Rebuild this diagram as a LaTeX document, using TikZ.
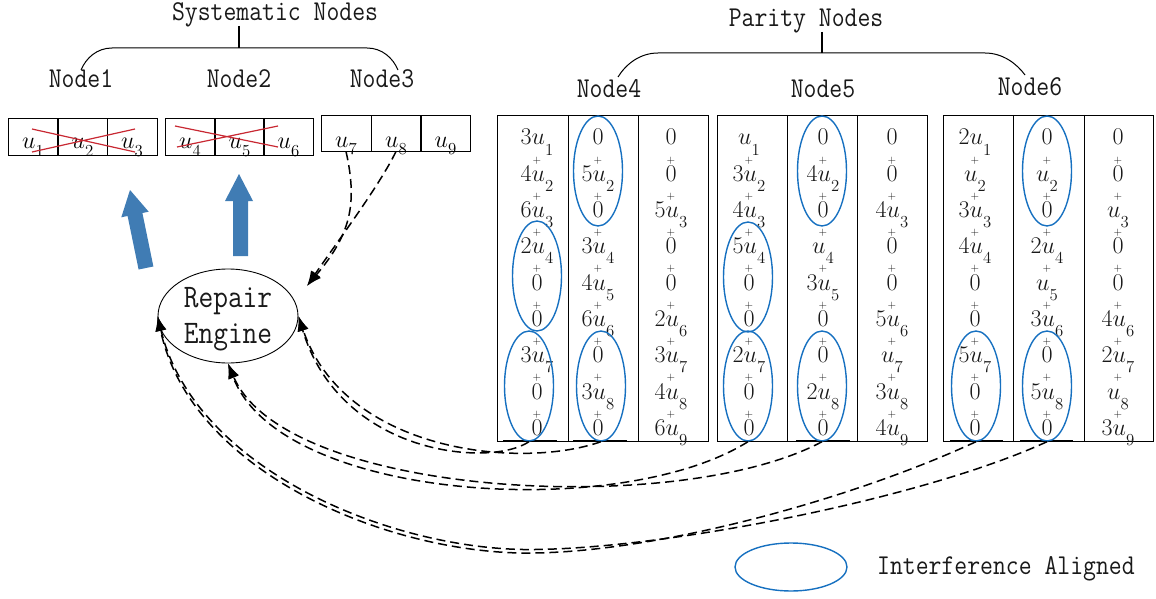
\RequirePackage{fix-cm}
\documentclass[tikz,border=0pt]{standalone}
\usepackage{fontspec}
\usepackage{graphicx}
\usetikzlibrary{shapes.geometric,arrows.meta}
\definecolor{iablue}{RGB}{22,112,192}
\definecolor{arrblue}{RGB}{64,124,180}
\definecolor{xred}{RGB}{200,40,50}
\definecolor{txt}{RGB}{25,25,25}
\newcommand\lab[2][25]{{\ttfamily\fontsize{#1}{#1}\selectfont\scalebox{1}[1.15]{#2}}}
\newcommand\uu[2][0.42]{u\raisebox{-#1em}{$\scriptstyle #2$}}
\newcommand\pcol[3]{%
  \foreach \tm [count=\i] in {#3} {
    \node[term] (#1-\i) at (#2, {145+36.3*(\i-1)}) {$\tm$};
    \ifnum\i>1 \node[plus] (#1-p\i) at (#2, {124+36.3*(\i-1)}) {$+$};\fi
  }}
\begin{document}
\begin{tikzpicture}[x=1pt,y=-1pt,
  box/.style={draw, line width=0.8pt, minimum width=50pt, inner sep=0pt, text height=24pt, text depth=0pt, font=\fontsize{24}{24}\selectfont},
  term/.style={anchor=base, inner sep=0pt, text=txt, font=\fontsize{24}{24}\selectfont},
  plus/.style={inner sep=0pt, text=txt, font=\fontsize{11}{11}\selectfont},
  ia/.style={draw=iablue, line width=1.4pt, ellipse, inner sep=0pt, minimum width=49pt, minimum height=110pt},
  dsh/.style={dash pattern=on 9pt off 5pt, line width=1.5pt, -{Latex[length=15pt,width=11pt]}},
  lbl/.style={anchor=base, inner sep=0pt, text=txt},
  brace/.style={line width=1pt}
]
\useasboundingbox (0,0) rectangle (1156,599);

% systematic cells
\node[box, minimum height=37pt] (c1) at (33,136.5) {$\uu[0.32]{1}$};
\node[box, minimum height=37pt] (c2) at (82.5,136.5) {$\uu[0.32]{2}$};
\node[box, minimum height=37pt] (c3) at (132,136.5) {$\uu[0.32]{3}$};
\node[box, minimum height=37pt] (c4) at (190,136.5) {$\uu[0.32]{4}$};
\node[box, minimum height=37pt] (c5) at (239.5,136.5) {$\uu[0.32]{5}$};
\node[box, minimum height=37pt] (c6) at (288.5,136.5) {$\uu[0.32]{6}$};
\node[box, minimum height=36pt, text height=28pt] (c7) at (346,133) {$\uu[0.32]{7}$};
\node[box, minimum height=36pt, text height=28pt] (c8) at (396,133) {$\uu[0.32]{8}$};
\node[box, minimum height=36pt, text height=28pt] (c9) at (445.5,133) {$\uu[0.32]{9}$};
\draw[xred, line width=1.2pt] (32,129)--(135,152) (32,152)--(135,129);
\draw[xred, line width=1.2pt] (175,126)--(278,147) (177,147)--(278,126);

% labels and braces
\node[lbl] (sys) at (275,21) {\lab{Systematic Nodes}};
\node[lbl] (n1) at (81,88) {\lab{Node1}};
\node[lbl] (n2) at (239,88) {\lab{Node2}};
\node[lbl] (n3) at (382,88) {\lab{Node3}};
\draw[line width=1.5pt] (239,26)--(239,48);
\draw[brace] (81,70) .. controls (86,58) and (97,48) .. (112,48) -- (367,48) .. controls (382,48) and (393,58) .. (398,70);
\node[lbl] (par) at (806,27) {\lab{Parity Nodes}};
\node[lbl] (n4) at (609,98) {\lab{Node4}};
\node[lbl] (n5) at (823,98) {\lab{Node5}};
\node[lbl] (n6) at (1030,96) {\lab{Node6}};
\draw[line width=1.5pt] (822,32)--(822,53);
\draw[brace] (618,77) .. controls (626,64) and (640,53) .. (658,53) -- (985,53) .. controls (1003,53) and (1017,64) .. (1025,75);

% parity boxes
\draw[line width=0.8pt] (497,115) rectangle (708,441) (568,115)--(568,441) (638,115)--(638,441);
\draw[line width=0.8pt] (717,115) rectangle (927,441) (787,115)--(787,441) (857,115)--(857,441);
\draw[line width=0.8pt] (943,115) rectangle (1153,441) (1013,115)--(1013,441) (1084,115)--(1084,441);
\draw[line width=2.2pt] (503,441)--(557,441) (573,441)--(627,441) (796,441)--(850,441) (950,441)--(1003,441) (1020,441)--(1073,441);

\pcol{t4a}{537}{3\uu1, 4\uu2, 6\uu3, 2\uu4, 0, 0, 3\uu7, 0, 0}
\pcol{t4b}{598}{0, 5\uu2, 0, 3\uu4, 4\uu5, 6\uu6, 0, 3\uu8, 0}
\pcol{t4c}{671}{0, 0, 5\uu3, 0, 0, 2\uu6, 3\uu7, 4\uu8, 6\uu9}
\pcol{t5a}{749}{\uu1, 3\uu2, 4\uu3, 5\uu4, 0, 0, 2\uu7, 0, 0}
\pcol{t5b}{823}{0, 4\uu2, 0, \uu4, 3\uu5, 0, 0, 2\uu8, 0}
\pcol{t5c}{892}{0, 0, 4\uu3, 0, 0, 5\uu6, \uu7, 3\uu8, 4\uu9}
\pcol{t6a}{975}{2\uu1, \uu2, 3\uu3, 4\uu4, 0, 0, 5\uu7, 0, 0}
\pcol{t6b}{1047}{0, \uu2, 0, 2\uu4, \uu5, 3\uu6, 0, 5\uu8, 0}
\pcol{t6c}{1118}{0, 0, \uu3, 0, 0, 4\uu6, 2\uu7, \uu8, 3\uu9}

% interference-aligned ellipses
\node[ia] (e4a) at (537,276) {};
\node[ia] (e4b) at (529,386) {};
\node[ia] (e4c) at (598,171) {};
\node[ia] (e4d) at (601,386) {};
\node[ia] (e5a) at (748,277) {};
\node[ia] (e5b) at (748,386) {};
\node[ia] (e5c) at (822,171) {};
\node[ia] (e5d) at (822,386) {};
\node[ia] (e6c) at (1047,171) {};
\node[ia] (e6b) at (976,386) {};
\node[ia] (e6d) at (1047,386) {};

% repair engine
\node[draw, ellipse, line width=0.9pt, minimum width=140pt, minimum height=94pt, inner sep=0pt] (re) at (228,316) {};
\node[lbl] (re1) at (228,307) {\lab[28.6]{Repair}};
\node[lbl] (re2) at (228,343) {\lab[28.6]{Engine}};

% blue block arrows
\fill[arrblue] (138.6,269.5) -- (127.6,216) -- (121.3,217.3) -- (130,190) -- (148.7,211.7) -- (142.4,213) -- (153.4,266.5) -- cycle;
\fill[arrblue] (233,256) -- (233,201) -- (225,201) -- (239,174) -- (253,201) -- (248,201) -- (248,256) -- cycle;

% dashed connectors
\coordinate (rt) at (307,286);
\draw[dsh] (c7.south) .. controls (358,205) and (350,235) .. (rt);
\draw[dsh] (c8.south) .. controls (380,185) and (335,245) .. (rt);
\draw[dsh] (e4b.south) .. controls (490,468) and (340,455) .. (re.east);
\draw[dsh] (e4d.south) .. controls (520,470) and (344,452) .. (re.east);
\draw[dsh] (e5b.south) .. controls (620,522) and (280,502) .. (re.south);
\draw[dsh] (e5d.south) .. controls (680,518) and (285,498) .. (re.south);
\draw[dsh] (e6b.south) .. controls (850,500) and (650,555) .. (520,553) .. controls (380,550) and (190,470) .. (re.west);
\draw[dsh] (e6d.south) .. controls (920,500) and (655,551) .. (523,549.5) .. controls (384,547) and (194,467) .. (re.west);

% legend
\node[ia, minimum width=112pt, minimum height=48pt] (leg) at (791,567) {};
\node[lbl, anchor=base west] (legt) at (877,574) {\lab{Interference Aligned}};
\end{tikzpicture}
\end{document}
